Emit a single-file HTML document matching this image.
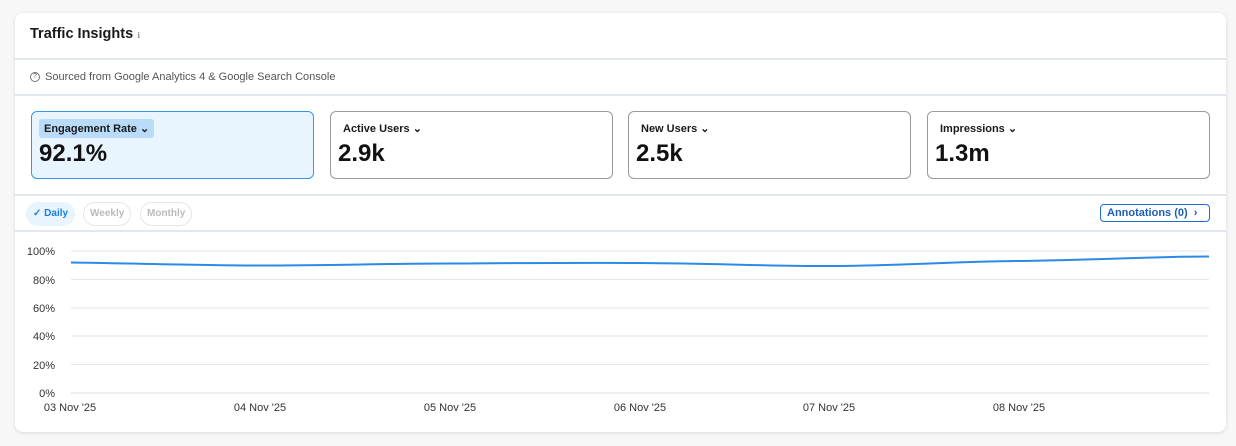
<!DOCTYPE html>
<html><head><meta charset="utf-8"><style>
*{box-sizing:border-box;margin:0;padding:0}
body{width:1236px;height:446px;background:#f7f7f8;font-family:"Liberation Sans",sans-serif;position:relative;overflow:hidden;color:#1a1a1a}
.card{position:absolute;left:15px;top:13px;width:1211px;height:419px;background:#fff;border-radius:8px;box-shadow:0 1px 4px rgba(0,0,0,.12)}
.hline{position:absolute;left:0;right:0;height:1.5px;background:#e3e7ee}
.t{position:absolute;white-space:nowrap}
.m{position:absolute;top:98px;width:283px;height:68px;border:1px solid #9a9a9a;border-radius:6px;background:#fff}
.m .lb{position:absolute;left:12px;top:10px;font-size:11px;font-weight:bold}
.m .v{position:absolute;left:7px;top:28px;font-size:24px;font-weight:900;color:#111}
.pill{position:absolute;top:189px;height:24px;border:1px solid #e6e6e6;border-radius:12px;font-size:10px;color:#bbb;padding:5px 6px;font-weight:bold}
</style></head><body>
<div class="card">
<div class="t" style="left:15px;top:13px;font-size:14.5px;font-weight:bold">Traffic Insights <span style="font-size:8px;color:#999;font-weight:normal">ℹ</span></div>
<div class="hline" style="top:45px"></div>
<div class="t" style="left:15px;top:57px;font-size:11px;color:#555;display:flex;align-items:center;height:13px"><span style="display:inline-block;width:10px;height:10px;border:1px solid #777;border-radius:50%;font-size:7px;text-align:center;line-height:8px;margin-right:5px">?</span>Sourced from Google Analytics 4 &amp; Google Search Console</div>
<div class="hline" style="top:81px"></div>
<div class="m" style="left:16px;background:#e8f4fe;border-color:#3a95e8"><div class="lb" style="left:7px;top:7px;background:#b8dcfa;padding:3px 5px;border-radius:3px">Engagement Rate ⌄</div><div class="v">92.1%</div></div>
<div class="m" style="left:315px"><div class="lb">Active Users ⌄</div><div class="v">2.9k</div></div>
<div class="m" style="left:613px"><div class="lb">New Users ⌄</div><div class="v">2.5k</div></div>
<div class="m" style="left:912px"><div class="lb">Impressions ⌄</div><div class="v">1.3m</div></div>
<div class="hline" style="top:181px"></div>
<div class="pill" style="left:11px;background:#e8f4fe;border-color:#e8f4fe;color:#1a7fe0">✓ Daily</div>
<div class="pill" style="left:68px">Weekly</div>
<div class="pill" style="left:125px">Monthly</div>
<div class="t" style="left:1085px;top:191px;height:18px;width:110px;border:1.5px solid #1a6fd0;border-radius:4px;font-size:11px;font-weight:bold;color:#1a5fb8;padding:2px 6px">Annotations (0) &nbsp;›</div>
<div class="hline" style="top:217px"></div>
</div>
<svg style="position:absolute;left:0;top:0" width="1236" height="446">
<g stroke="#e6e6e6" stroke-width="1">
<line x1="71" x2="1209" y1="251" y2="251"/><line x1="71" x2="1209" y1="279.5" y2="279.5"/><line x1="71" x2="1209" y1="308" y2="308"/><line x1="71" x2="1209" y1="336" y2="336"/><line x1="71" x2="1209" y1="364.5" y2="364.5"/><line x1="71" x2="1209" y1="393" y2="393" stroke="#ddd"/>
</g>
<g font-family="Liberation Sans" font-size="11" fill="#333" text-anchor="end">
<text x="55" y="255">100%</text><text x="55" y="284">80%</text><text x="55" y="312">60%</text><text x="55" y="340">40%</text><text x="55" y="369">20%</text><text x="55" y="397">0%</text>
</g>
<g font-family="Liberation Sans" font-size="11" fill="#333" text-anchor="middle">
<text x="70" y="411">03 Nov '25</text><text x="260" y="411">04 Nov '25</text><text x="450" y="411">05 Nov '25</text><text x="640" y="411">06 Nov '25</text><text x="829" y="411">07 Nov '25</text><text x="1019" y="411">08 Nov '25</text>
</g>
<path d="M71,262.5 C140,263.5 200,265.5 260,265.5 C330,265.5 390,263.5 450,263.5 C530,263 590,262.5 640,263 C720,263.5 760,266 829,266 C900,266 950,261.5 1019,261 C1100,260 1150,256.5 1209,256.5" fill="none" stroke="#2a8ae6" stroke-width="2"/>
</svg>
</body></html>
